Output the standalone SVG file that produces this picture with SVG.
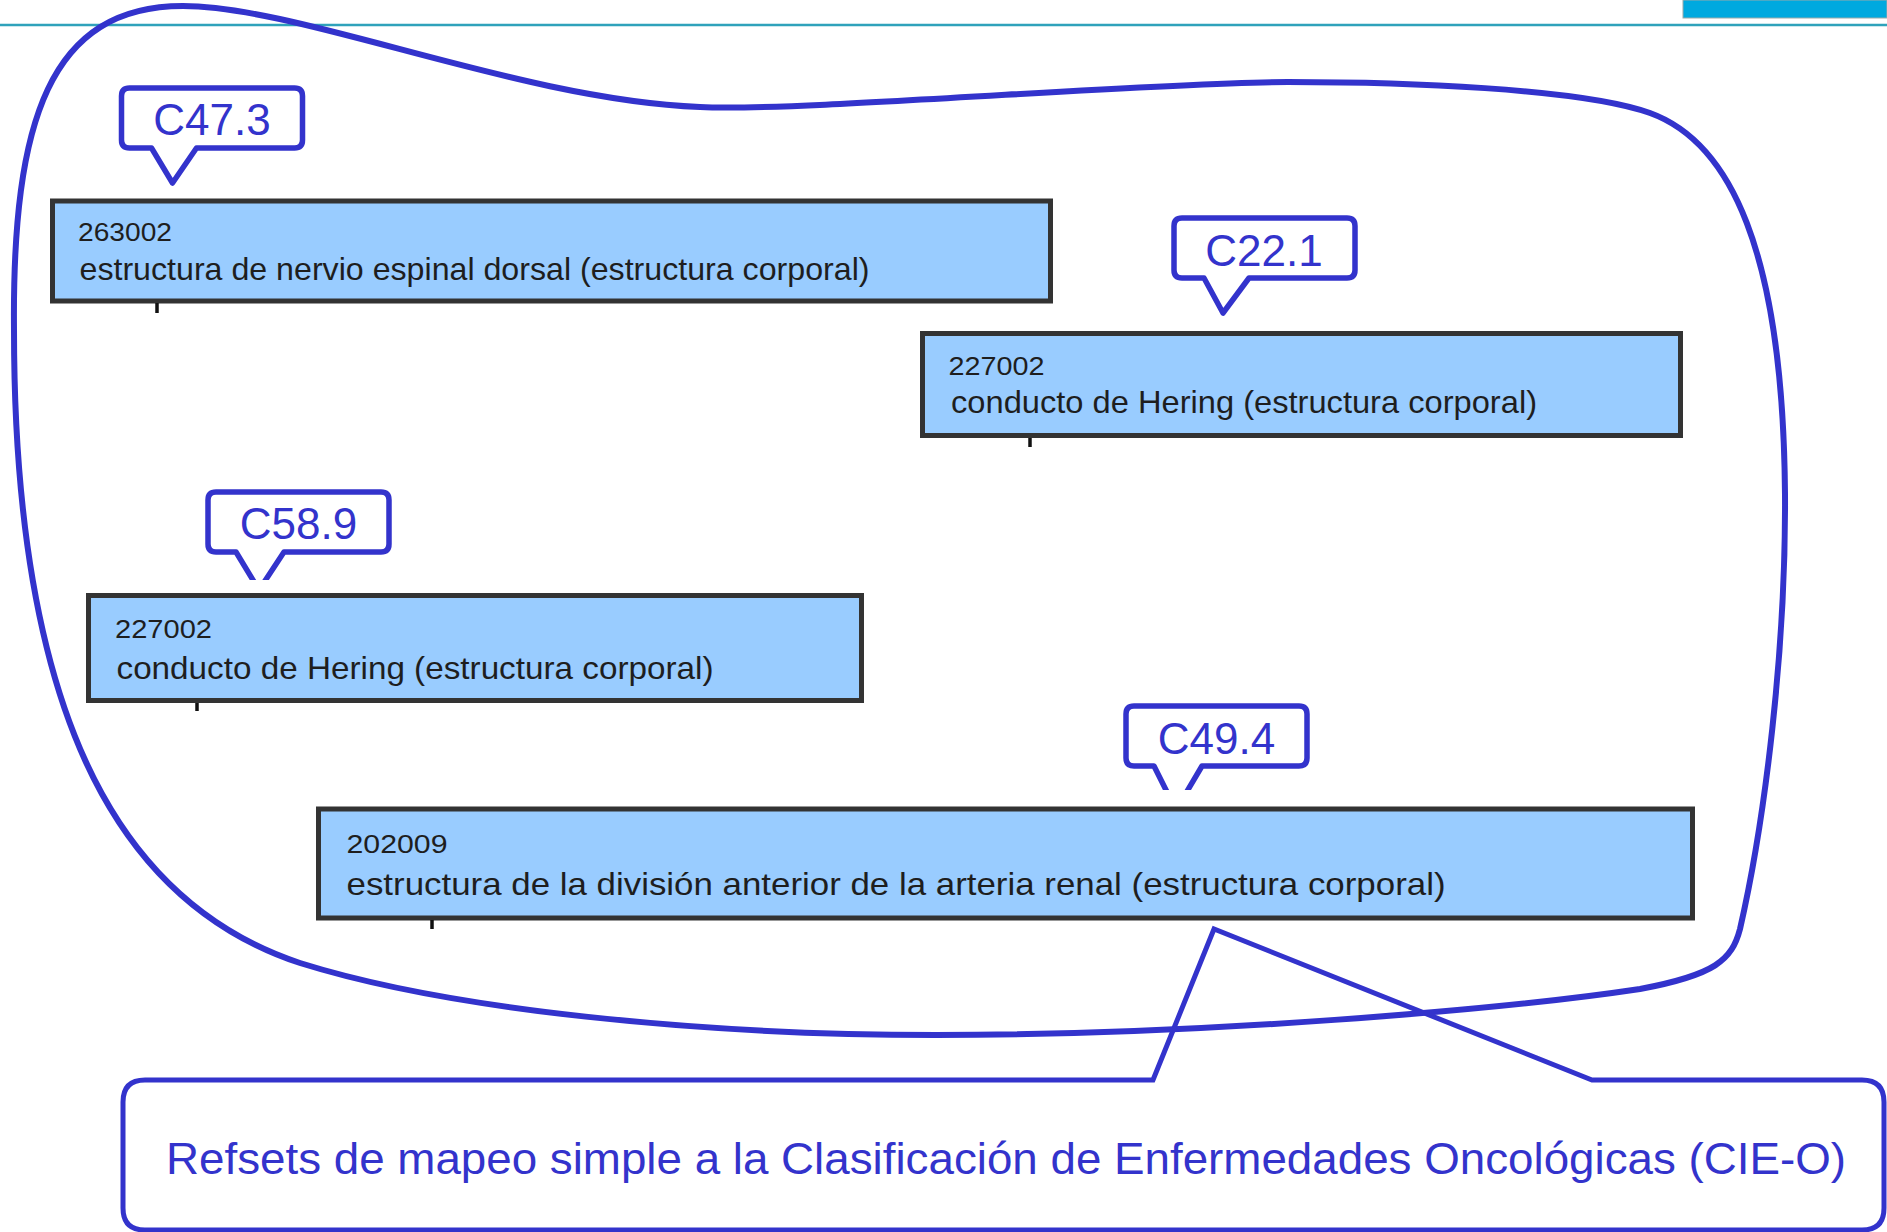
<svg xmlns="http://www.w3.org/2000/svg" width="1887" height="1232" viewBox="0 0 1887 1232">
  <defs>
    <style>
      .box { fill: #99ccff; stroke: #333333; stroke-width: 5; }
      .code { font-family: "Liberation Sans", Arial, sans-serif; font-size: 26px; fill: #1e1e1e; }
      .term { font-family: "Liberation Sans", Arial, sans-serif; font-size: 32px; fill: #1e1e1e; }
      .callout { fill: #ffffff; stroke: #3333cc; stroke-width: 5.5; stroke-linejoin: round; }
      .tag { font-family: "Liberation Sans", Arial, sans-serif; font-size: 44px; fill: #3333cc; text-anchor: middle; }
      .tick { stroke: #111111; stroke-width: 3.5; }
      .blob { fill: none; stroke: #3333cc; stroke-width: 6; }
      .note { fill: #ffffff; stroke: #3333cc; stroke-width: 5; stroke-linejoin: miter; }
      .note-text { font-family: "Liberation Sans", Arial, sans-serif; font-size: 45px; fill: #3333cc; }
    </style>
    <clipPath id="clip-c589">
      <rect x="150" y="450" width="300" height="130"/>
    </clipPath>
    <clipPath id="clip-c494">
      <rect x="1080" y="680" width="280" height="110"/>
    </clipPath>
  </defs>

  <rect width="1887" height="1232" fill="#ffffff"/>

  <!-- page header rule and corner tab -->
  <line x1="0" y1="25" x2="1887" y2="25" stroke="#2fa2bb" stroke-width="2.5"/>
  <rect x="1683" y="0" width="204" height="18" fill="#00a9df" stroke="#9aa" stroke-width="1"/>

  <!-- concept boxes -->
  <g id="concept-263002">
    <rect class="box" x="52.5" y="201" width="998" height="100"/>
    <text class="code" x="78" y="241" textLength="94" lengthAdjust="spacingAndGlyphs">263002</text>
    <text class="term" x="79.5" y="280" textLength="790" lengthAdjust="spacingAndGlyphs">estructura de nervio espinal dorsal (estructura corporal)</text>
  </g>

  <g id="concept-227002-a">
    <rect class="box" x="922.5" y="333.5" width="758" height="102"/>
    <text class="code" x="948.5" y="375" textLength="96" lengthAdjust="spacingAndGlyphs">227002</text>
    <text class="term" x="951" y="413" textLength="586" lengthAdjust="spacingAndGlyphs">conducto de Hering (estructura corporal)</text>
  </g>

  <g id="concept-227002-b">
    <rect class="box" x="88.5" y="595.5" width="773" height="105"/>
    <text class="code" x="115" y="638" textLength="97" lengthAdjust="spacingAndGlyphs">227002</text>
    <text class="term" x="116.5" y="679" textLength="597" lengthAdjust="spacingAndGlyphs">conducto de Hering (estructura corporal)</text>
  </g>

  <g id="concept-202009">
    <rect class="box" x="318.5" y="809" width="1374" height="109"/>
    <text class="code" x="346.5" y="853" textLength="101" lengthAdjust="spacingAndGlyphs">202009</text>
    <text class="term" x="346.5" y="895" textLength="1099" lengthAdjust="spacingAndGlyphs">estructura de la división anterior de la arteria renal (estructura corporal)</text>
  </g>

  <!-- code callouts -->
  <g id="code-C47.3">
    <path class="callout" d="M 129.5,88 H 294.5 Q 302.5,88 302.5,96 V 140 Q 302.5,148 294.5,148 H 196.5 L 172.5,183 L 151.5,148 H 129.5 Q 121.5,148 121.5,140 V 96 Q 121.5,88 129.5,88 Z"/>
    <text class="tag" x="212" y="135">C47.3</text>
  </g>

  <g id="code-C22.1">
    <path class="callout" d="M 1182,218 H 1347 Q 1355,218 1355,226 V 270 Q 1355,278 1347,278 H 1249 L 1223,313 L 1204,278 H 1182 Q 1174,278 1174,270 V 226 Q 1174,218 1182,218 Z"/>
    <text class="tag" x="1264" y="266">C22.1</text>
  </g>

  <g id="code-C58.9">
    <path class="callout" clip-path="url(#clip-c589)" d="M 216,492 H 381 Q 389,492 389,500 V 544 Q 389,552 381,552 H 284 L 259,590 L 236,552 H 216 Q 208,552 208,544 V 500 Q 208,492 216,492 Z"/>
    <text class="tag" x="298.5" y="538.5">C58.9</text>
  </g>

  <g id="code-C49.4">
    <path class="callout" clip-path="url(#clip-c494)" d="M 1134,706 H 1299 Q 1307,706 1307,714 V 758 Q 1307,766 1299,766 H 1202 L 1176,810 L 1154,766 H 1134 Q 1126,766 1126,758 V 714 Q 1126,706 1134,706 Z"/>
    <text class="tag" x="1216.5" y="754">C49.4</text>
  </g>

  <!-- refset note with pointer -->
  <g id="refset-note">
    <path class="note" d="M 145,1080 H 1153 L 1214,929 L 1592,1080 H 1862 Q 1884,1080 1884,1102 V 1208 Q 1884,1230 1862,1230 H 145 Q 123,1230 123,1208 V 1102 Q 123,1080 145,1080 Z"/>
    <text class="note-text" x="166" y="1174" textLength="1680" lengthAdjust="spacingAndGlyphs">Refsets de mapeo simple a la Clasificación de Enfermedades Oncológicas (CIE-O)</text>
  </g>

  <!-- freehand grouping outline -->
  <g id="refset-group">
    <path class="blob" d="M 14,330 C 12,120 50,6 183,6 C 300,6 520,100 700,107 C 800,112 1150,82 1288,82 C 1400,82 1580,88 1650,113 C 1730,142 1783,250 1785,494 C 1786,650 1765,820 1740,929 C 1732,960 1715,975 1640,989 C 1500,1010 1200,1035 936,1035 C 700,1035 450,1010 300,963 C 110,900 14,700 14,330 Z"/>
  </g>

  <!-- connector stubs below each concept -->
  <g id="connectors">
    <line class="tick" x1="157" y1="303" x2="157" y2="313"/>
    <line class="tick" x1="1030" y1="438" x2="1030" y2="447"/>
    <line class="tick" x1="197" y1="703" x2="197" y2="711"/>
    <line class="tick" x1="432" y1="920" x2="432" y2="929"/>
  </g>
</svg>
